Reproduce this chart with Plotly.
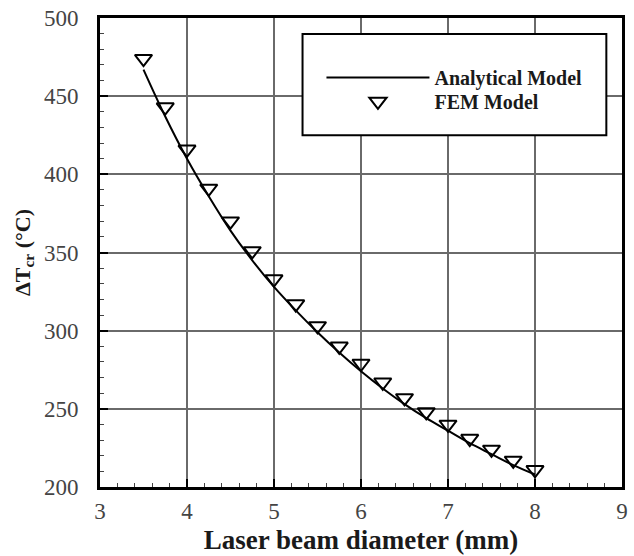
import plotly.graph_objects as go

# Data
fem_x = [3.5, 3.75, 4.0, 4.25, 4.5, 4.75, 5.0, 5.25, 5.5, 5.75, 6.0, 6.25, 6.5, 6.75, 7.0, 7.25, 7.5, 7.75, 8.0]
fem_y = [474, 443, 416, 391, 370, 351, 333, 317, 303, 290, 279, 267, 257, 248, 240, 231, 224, 217, 211]

ana_x = [3.5, 3.75, 4.0, 4.25, 4.5, 4.75, 5.0, 5.25, 5.5, 5.75, 6.0, 6.25, 6.5, 6.75, 7.0, 7.25, 7.5, 7.75, 8.0]
ana_y = [467, 437, 410, 386, 364, 345, 328, 313, 299, 286, 274, 263, 253, 244, 236, 228, 221, 214, 208]

x_ticks = [3, 4, 5, 6, 7, 8, 9]
y_ticks = [200, 250, 300, 350, 400, 450, 500]

FONT = "Liberation Serif, Times New Roman, Times, serif"

fig = go.Figure()
fig.add_trace(go.Scatter(x=ana_x, y=ana_y, mode="lines", name="Analytical Model",
                         line=dict(color="black", width=2, shape="spline"), legend="legend"))
fig.add_trace(go.Scatter(x=fem_x, y=fem_y, mode="markers", name="FEM Model",
                         marker=dict(symbol="triangle-down-open", size=15,
                                     color="black", line=dict(color="black", width=2)),
                         legend="legend2"))

axis_common = dict(
    showline=True, linecolor="black", linewidth=3, mirror=True,
    showgrid=True, gridcolor="#6a6a6a", gridwidth=1.5,
    zeroline=False,
    ticks="inside", ticklen=8, tickcolor="black", tickwidth=1.5,
    tickfont=dict(family=FONT, size=23, color="#444444"),
)

fig.update_xaxes(range=[3, 9], tickvals=x_ticks,
                 minor=dict(ticks="inside", dtick=0.2, ticklen=4, tickcolor="#444", tickwidth=1, showgrid=False),
                 title=dict(text="<b>Laser beam diameter (mm)</b>", font=dict(family=FONT, size=27, color="#1a1a1a"), standoff=8),
                 ticklabelstandoff=1,
                 **axis_common)
fig.update_yaxes(range=[200, 500], tickvals=y_ticks,
                 minor=dict(ticks="inside", dtick=10, ticklen=4, tickcolor="#444", tickwidth=1, showgrid=False),
                 title=dict(text="<b>ΔT<sub>cr</sub> (°C)</b>", font=dict(family=FONT, size=22, color="#1a1a1a"), standoff=8),
                 ticklabelstandoff=14,
                 **axis_common)

# legend frame
fig.add_shape(type="rect", xref="paper", yref="paper", x0=0.388, x1=0.970, y0=0.75, y1=0.966,
              line=dict(color="black", width=2), fillcolor="white", layer="above")

leg_common = dict(xanchor="left", yanchor="middle",
                  bgcolor="rgba(0,0,0,0)", borderwidth=0,
                  font=dict(family=FONT, size=20, color="#1a1a1a", weight="bold"),
                  itemwidth=103)

fig.update_layout(
    width=634, height=556,
    margin=dict(l=100, r=6, t=16, b=68),
    plot_bgcolor="white", paper_bgcolor="white",
    font=dict(family=FONT),
    legend=dict(x=(324 - 100) / 528, y=(488 - 76) / 472, **leg_common),
    legend2=dict(x=(324 - 100) / 528, y=(488 - 100) / 472, **leg_common),
    showlegend=True,
)

fig.write_html("out.html")
